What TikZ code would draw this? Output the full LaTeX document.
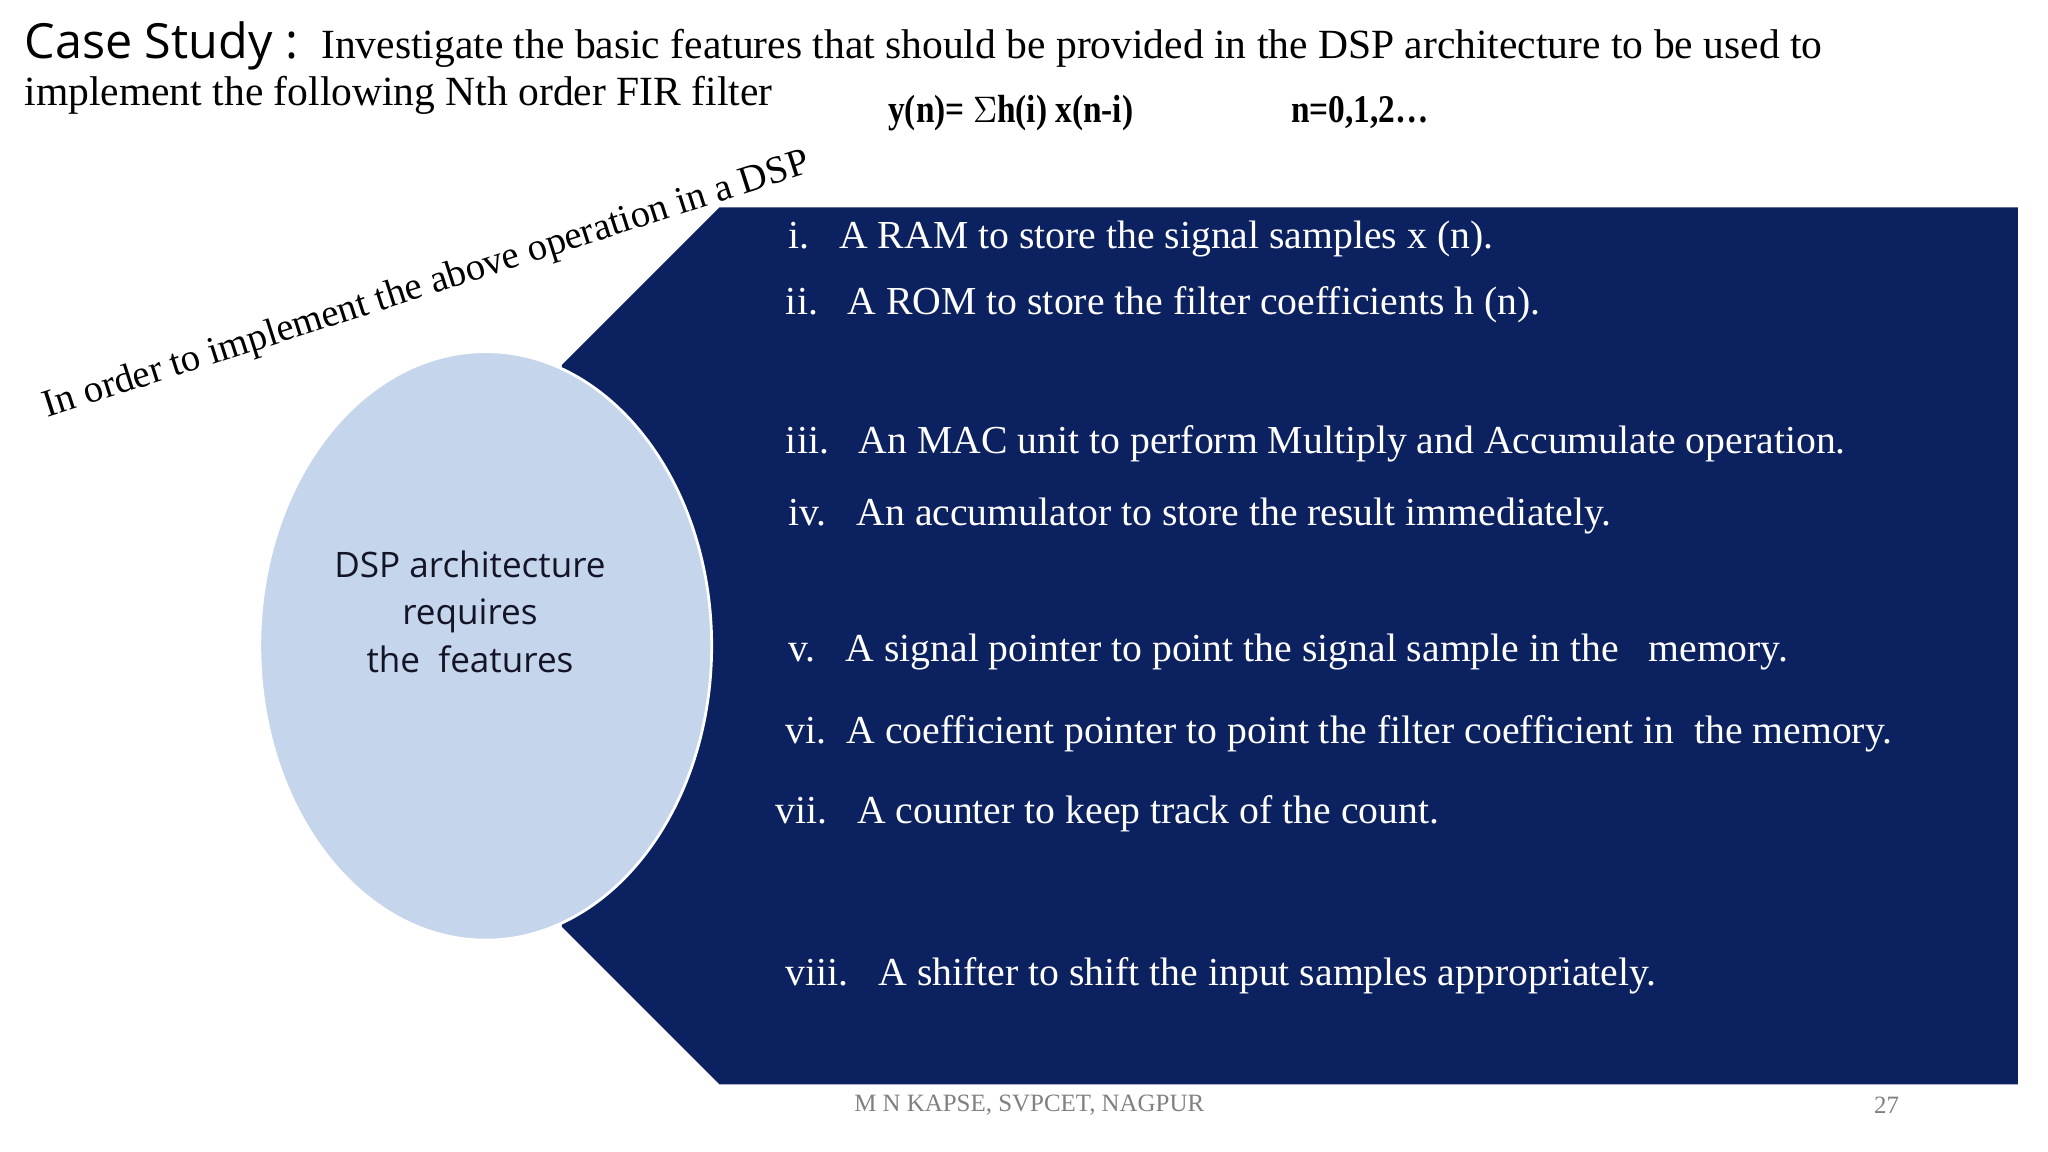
\documentclass[tikz,border=0pt]{standalone}
\usepackage{fontspec}
\usetikzlibrary{shapes.geometric}
\setmainfont{Liberation Serif}
\newfontfamily\osans{Open Sans}
\begin{document}
\begin{tikzpicture}[x=0.01cm,y=-0.01cm,
  item/.style={anchor=west,text=white,font=\fontsize{8.6}{10}\selectfont,inner sep=0pt}]
\useasboundingbox (0,0) rectangle (1560,877);
\fill[white] (0,0) rectangle (1560,877);
\fill[fill={rgb,255:red,12;green,33;blue,96}] (548,158) -- (1537,158) -- (1537,826) -- (548,826) -- (428,706) -- (428,278) -- cycle;
\node[ellipse,draw=white,line width=0.6pt,fill={rgb,255:red,197;green,213;blue,236},minimum width=3.44cm,minimum height=4.48cm,inner sep=0pt] (ell) at (370,492) {};
\node[align=center,font=\osans\fontsize{7.6}{10.2}\selectfont,text={rgb,255:red,20;green,20;blue,40}] (elltxt) at (358,466) {DSP architecture\\requires\\the\ \ features};
\node[anchor=west,inner sep=0pt] (title) at (18,35) {{\osans\fontsize{10.5}{12}\selectfont Case Study :}\ \ {\fontsize{9}{11}\selectfont Investigate the basic features that should be provided in the DSP architecture to be used to}};
\node[anchor=west,inner sep=0pt,font=\fontsize{9}{11}\selectfont] (title2) at (18,73) {implement the following Nth order FIR filter};
\node[anchor=west,inner sep=0pt,font=\bfseries\fontsize{8.5}{10}\selectfont,xscale=0.85] (f1) at (676,86) {y(n)= $\Sigma$h(i) x(n-i)};
\node[anchor=west,inner sep=0pt,font=\bfseries\fontsize{8.5}{10}\selectfont,xscale=0.85] (f2) at (983,86) {n=0,1,2\dots};
\node[rotate=17.8,inner sep=0pt,font=\fontsize{8.4}{10}\selectfont] (rot) at (325,218) {In order to implement the above operation in a DSP};
\node[item] (i1) at (600,182) {i.\ \ \ A RAM to store the signal samples x (n).};
\node[item] (i2) at (598,232) {ii.\ \ \ A ROM to store the filter coefficients h (n).};
\node[item] (i3) at (598,338) {iii.\ \ \ An MAC unit to perform Multiply and Accumulate operation.};
\node[item] (i4) at (600,393) {iv.\ \ \ An accumulator to store the result immediately.};
\node[item] (i5) at (600,497) {v.\ \ \ A signal pointer to point the signal sample in the\ \ \ memory.};
\node[item] (i6) at (598,559) {vi.\ \ A coefficient pointer to point the filter coefficient in\ \ the memory.};
\node[item] (i7) at (590,620) {vii.\ \ \ A counter to keep track of the count.};
\node[item] (i8) at (598,743) {viii.\ \ \ A shifter to shift the input samples appropriately.};
\node[inner sep=0pt,text=gray,font=\fontsize{5.4}{7}\selectfont] (foot) at (784,842) {M N KAPSE, SVPCET, NAGPUR};
\node[inner sep=0pt,text=gray,font=\fontsize{5.4}{7}\selectfont] (pg) at (1437,842) {27};
\end{tikzpicture}
\end{document}
